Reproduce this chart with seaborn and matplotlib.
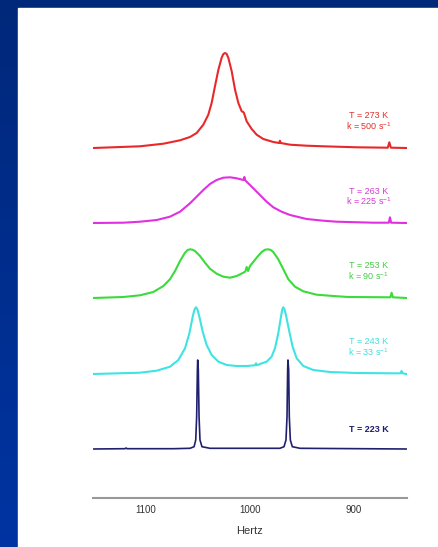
import numpy as np
import pandas as pd
import matplotlib
matplotlib.use("Agg")
import matplotlib.pyplot as plt
import seaborn as sns

# Spectra: frequency (Hz) and height above baseline
hz_273 = [1150.6, 1105.8, 1083.3, 1067.3, 1057.7, 1051.3, 1044.9, 1040.1, 1036.9, 1033.7,
          1030.4, 1027.2, 1025.6, 1024.0, 1022.4, 1020.8, 1017.6, 1014.4, 1011.2, 1008.0,
          1006.5, 1005.8, 1003.2, 998.4, 993.6, 987.2, 977.6, 972.0, 971.2, 970.4, 961.5,
          945.5, 929.5, 897.4, 867.5, 866.0, 864.5, 849.4]
int_273 = [0, 1.7, 4.3, 7.7, 11, 15, 23.3, 33.3, 45, 61.7,
           78.3, 90.5, 94, 95, 94, 90, 76.7, 58.3, 45, 36.7,
           36, 35, 26.7, 19, 13.3, 9, 6, 5, 7.3, 5, 3.3,
           2.3, 1.7, 0.7, 0.3, 5.7, 0.3, 0]

hz_263 = [1150.6, 1121.8, 1105.8, 1089.7, 1077.0, 1067.3, 1057.7, 1051.3, 1044.9, 1038.5,
          1032.1, 1025.6, 1019.2, 1012.8, 1006.4, 1005.4, 1004.5, 1003.2, 996.8, 990.4,
          984.0, 977.6, 969.6, 961.5, 945.5, 929.5, 916.7, 881.4, 866.5, 865.4, 864.3, 849.4]
int_263 = [0, 0.3, 1.3, 3, 6.3, 11.3, 19.7, 26.3, 33, 39,
           43, 45.3, 45.7, 44.7, 43, 46, 42.5, 41.3, 34.7, 28,
           21.3, 15.7, 11.3, 8, 4, 2.3, 1.3, 0.3, 0.3, 5.7, 0.3, 0]

hz_253 = [1150.6, 1121.8, 1105.8, 1093.0, 1083.3, 1077.0, 1072.1, 1067.3, 1062.5, 1060.0,
          1057.7, 1055.3, 1052.9, 1048.1, 1043.3, 1038.5, 1032.1, 1025.6, 1019.2, 1012.8,
          1006.4, 1004.5, 1003.2, 1001.9, 1000.0, 993.6, 988.8, 985.5, 982.4, 980.0,
          977.6, 972.8, 967.9, 963.1, 956.7, 948.7, 935.9, 919.9, 905.5, 865.0,
          863.8, 862.6, 849.4]
int_253 = [0, 1, 2.7, 6, 12, 18.7, 27, 37, 45.3, 48,
           48.7, 48.3, 47, 42, 35.3, 29.3, 24.3, 21.3, 20.3, 22,
           25.3, 26.5, 31, 27, 32, 40.3, 46, 48.3, 48.7, 48,
           46, 38.7, 28.7, 18.7, 11.3, 6.7, 3.3, 2, 1, 0.7,
           5.3, 0.7, 0]

hz_243 = [1150.6, 1105.8, 1089.7, 1077.0, 1068.9, 1062.5, 1058.3, 1055.1, 1053.4, 1051.9,
          1050.4, 1048.7, 1045.5, 1041.7, 1036.9, 1030.4, 1022.4, 1012.8, 1003.2, 995.2,
          994.2, 993.3, 990.4, 984.0, 979.2, 976.0, 972.8, 970.2, 969.0, 968.0,
          966.8, 965.4, 962.5, 959.0, 955.1, 948.7, 939.1, 923.1, 897.4, 865.4,
          855.1, 854.2, 853.2, 849.4]
int_243 = [0, 1.3, 3.3, 7.3, 14, 25.7, 40.7, 57.3, 64.5, 66.7,
           64, 57.3, 42.3, 29, 19, 12.3, 9, 8, 8, 8.7,
           10.7, 8.7, 10, 12.3, 17.3, 25.7, 40.7, 57.3, 64.5, 66.7,
           64.5, 59, 44, 27.3, 15.7, 8, 4, 2, 1, 0.7,
           0.7, 3, 0.7, 0]

hz_223 = [1150.6, 1120.2, 1119.2, 1118.3, 1073.7, 1057.7, 1053.8, 1052.2, 1051.3, 1050.6,
          1050.3, 1049.7, 1049.0, 1048.1, 1046.2, 1038.5, 971.2, 967.3, 965.4, 964.4,
          963.8, 963.5, 962.8, 962.2, 961.2, 959.3, 951.9, 849.4]
int_223 = [0, 0.3, 1, 0.3, 0.3, 0.7, 2.3, 9, 32.3, 79,
           89, 79, 32.3, 9, 2.3, 0.7, 0.7, 2.3, 9, 32.3,
           79, 89, 79, 32.3, 9, 2.3, 0.7, 0]

temps = ["T = 273 K", "T = 263 K", "T = 253 K", "T = 243 K", "T = 223 K"]
rates = ["k = 500 s$^{-1}$", "k = 225 s$^{-1}$", "k = 90 s$^{-1}$", "k = 33 s$^{-1}$", None]

spectra = [(hz_273, int_273), (hz_263, int_263), (hz_253, int_253),
           (hz_243, int_243), (hz_223, int_223)]
offsets = [350, 275, 200, 124, 49]
colors = ["#e8282a", "#e030e0", "#3bdb3b", "#3fe3e3", "#20206e"]
label_colors = ["#e0302a", "#d838d8", "#44cc44", "#44dddd", "#1c1c6e"]
weights = ["normal", "normal", "normal", "normal", "bold"]
widths = [1.5, 1.5, 1.5, 1.5, 1.2]

sns.set_style("white")
plt.rcParams['font.family'] = ['Liberation Sans', 'DejaVu Sans']
plt.rcParams['mathtext.fontset'] = 'custom'
plt.rcParams['mathtext.rm'] = 'Liberation Sans'
plt.rcParams['mathtext.it'] = 'Liberation Sans'
plt.rcParams['mathtext.bf'] = 'Liberation Sans:bold'

fig = plt.figure(figsize=(4.39, 5.47), dpi=100)

# slide background (blue gradient) + white panel
bg = fig.add_axes([0, 0, 1, 1])
grad = np.linspace(0, 1, 256).reshape(-1, 1)
cmap = matplotlib.colors.LinearSegmentedColormap.from_list("slide", ["#00287a", "#0034a2"])
bg.imshow(grad, aspect='auto', cmap=cmap, extent=[0, 1, 0, 1], origin='upper')
bg.add_patch(plt.Rectangle((18 / 439, 0), 421 / 439, 539 / 547, color="white"))
bg.set_xlim(0, 1)
bg.set_ylim(0, 1)
bg.axis('off')

ax = fig.add_axes([93 / 439, 49 / 547, 314 / 439, 458 / 547])
ax.set_facecolor("none")

for (hz, inten), off, c, lw in zip(spectra, offsets, colors, widths):
    df = pd.DataFrame({"Hertz": hz, "y": np.array(inten) + off})
    sns.lineplot(data=df, x="Hertz", y="y", color=c, lw=lw, estimator=None, ax=ax)

for t, k, off, c, w in zip(temps, rates, offsets, label_colors, weights):
    if k is None:
        ax.text(886, off + 20, t, color=c, fontsize=6.5, ha='center', va='center', fontweight=w)
    else:
        ax.text(886, off + 32, t, color=c, fontsize=6.5, ha='center', va='center', fontweight=w)
        ax.text(886, off + 22, k, color=c, fontsize=6.5, ha='center', va='center', fontweight=w)

ax.set_xlim(1151, 849)
ax.set_ylim(0, 458)
ax.set_xticks([1100, 1000, 900])
ax.set_yticks([])
ax.set_ylabel("")
ax.set_xlabel("Hertz", fontsize=8, color="#333333", labelpad=8)
ax.tick_params(axis='x', direction='out', length=2, width=0.8, color="#888888",
               labelsize=7, labelcolor="#333333", pad=3)
for s in ["top", "left", "right"]:
    ax.spines[s].set_visible(False)
ax.spines["bottom"].set_color("#999999")
ax.spines["bottom"].set_linewidth(1.5)

fig.savefig("out.png", dpi=100)
